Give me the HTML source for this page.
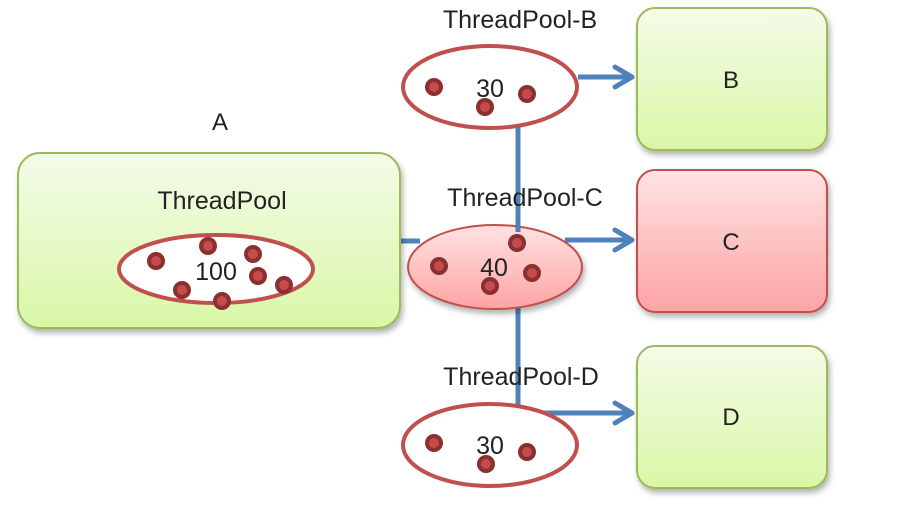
<!DOCTYPE html>
<html><head><meta charset="utf-8"><style>
html,body{margin:0;padding:0;background:#fff;width:917px;height:514px;overflow:hidden}
svg{display:block}
text{font-family:"Liberation Sans",sans-serif;fill:#222}
</style></head><body>
<svg width="917" height="514" viewBox="0 0 917 514" xmlns="http://www.w3.org/2000/svg">
<defs>
<linearGradient id="g" x1="0" y1="0" x2="0" y2="1"><stop offset="0" stop-color="#f4fbe8"/><stop offset="1" stop-color="#d9f7a6"/></linearGradient>
<linearGradient id="r" x1="0" y1="0" x2="0" y2="1"><stop offset="0" stop-color="#ffe2e2"/><stop offset="1" stop-color="#fea4a4"/></linearGradient>
<filter id="s" x="-10%" y="-10%" width="130%" height="130%"><feDropShadow dx="2" dy="4" stdDeviation="3" flood-color="#000" flood-opacity="0.3"/></filter>
<g id="dot"><circle r="9" fill="#8b2f2f"/><circle r="5" fill="#c44c4c"/></g>
</defs>
<!-- connectors -->
<g stroke="#4f81bd" stroke-width="5" fill="none">
<line x1="518" y1="125" x2="518" y2="410"/>
<line x1="398" y1="241" x2="420" y2="241"/>
<line x1="578" y1="77" x2="632" y2="77"/>
<line x1="565" y1="240" x2="632" y2="240"/>
<line x1="518" y1="413" x2="632" y2="413"/>
<polyline points="615,67 632,77 615,87" stroke-linecap="round" stroke-linejoin="round"/>
<polyline points="615,230 632,240 615,250" stroke-linecap="round" stroke-linejoin="round"/>
<polyline points="615,403 632,413 615,423" stroke-linecap="round" stroke-linejoin="round"/>
</g>
<!-- boxes -->
<rect x="18" y="153" width="382" height="175" rx="22" fill="url(#g)" stroke="#9bbb59" stroke-width="2" filter="url(#s)"/>
<rect x="637" y="8" width="190" height="142" rx="18" fill="url(#g)" stroke="#9bbb59" stroke-width="2" filter="url(#s)"/>
<rect x="637" y="170" width="190" height="142" rx="18" fill="url(#r)" stroke="#c0504d" stroke-width="2" filter="url(#s)"/>
<rect x="637" y="346" width="190" height="142" rx="18" fill="url(#g)" stroke="#9bbb59" stroke-width="2" filter="url(#s)"/>
<text x="731" y="88" font-size="24" text-anchor="middle" fill="#000">B</text>
<text x="731" y="250" font-size="24" text-anchor="middle" fill="#000">C</text>
<text x="731" y="425" font-size="24" text-anchor="middle" fill="#000">D</text>
<!-- A -->
<text x="220" y="130" font-size="24" text-anchor="middle">A</text>
<text x="222" y="209" font-size="25" text-anchor="middle">ThreadPool</text>
<ellipse cx="216" cy="269" rx="97" ry="34" fill="#fff" stroke="#c0504d" stroke-width="4"/>
<text x="216" y="280" font-size="25" text-anchor="middle" fill="#000">100</text>
<use href="#dot" x="156" y="261"/><use href="#dot" x="208" y="246"/><use href="#dot" x="253" y="254"/><use href="#dot" x="258" y="276"/><use href="#dot" x="284" y="285"/><use href="#dot" x="182" y="290"/><use href="#dot" x="222" y="301"/>
<!-- B pool -->
<text x="520" y="28" font-size="25" text-anchor="middle">ThreadPool-B</text>
<ellipse cx="490" cy="87" rx="87" ry="41" fill="#fff" stroke="#c0504d" stroke-width="4"/>
<text x="490" y="97" font-size="25" text-anchor="middle" fill="#000">30</text>
<use href="#dot" x="434" y="87"/><use href="#dot" x="485" y="107"/><use href="#dot" x="527" y="94"/>
<!-- C pool -->
<text x="525" y="206" font-size="25" text-anchor="middle">ThreadPool-C</text>
<ellipse cx="495" cy="267" rx="87" ry="42" fill="url(#r)" stroke="#c0504d" stroke-width="2" filter="url(#s)"/>
<line x1="518" y1="225" x2="518" y2="232" stroke="#4f81bd" stroke-width="5"/>
<text x="494" y="276" font-size="25" text-anchor="middle" fill="#000">40</text>
<use href="#dot" x="517" y="243"/><use href="#dot" x="439" y="266"/><use href="#dot" x="532" y="273"/><use href="#dot" x="490" y="286"/>
<!-- D pool -->
<text x="521" y="385" font-size="25" text-anchor="middle">ThreadPool-D</text>
<ellipse cx="490" cy="445" rx="87" ry="41" fill="#fff" stroke="#c0504d" stroke-width="4"/>
<text x="490" y="454" font-size="25" text-anchor="middle" fill="#000">30</text>
<use href="#dot" x="434" y="443"/><use href="#dot" x="486" y="464"/><use href="#dot" x="527" y="452"/>
</svg>
</body></html>
